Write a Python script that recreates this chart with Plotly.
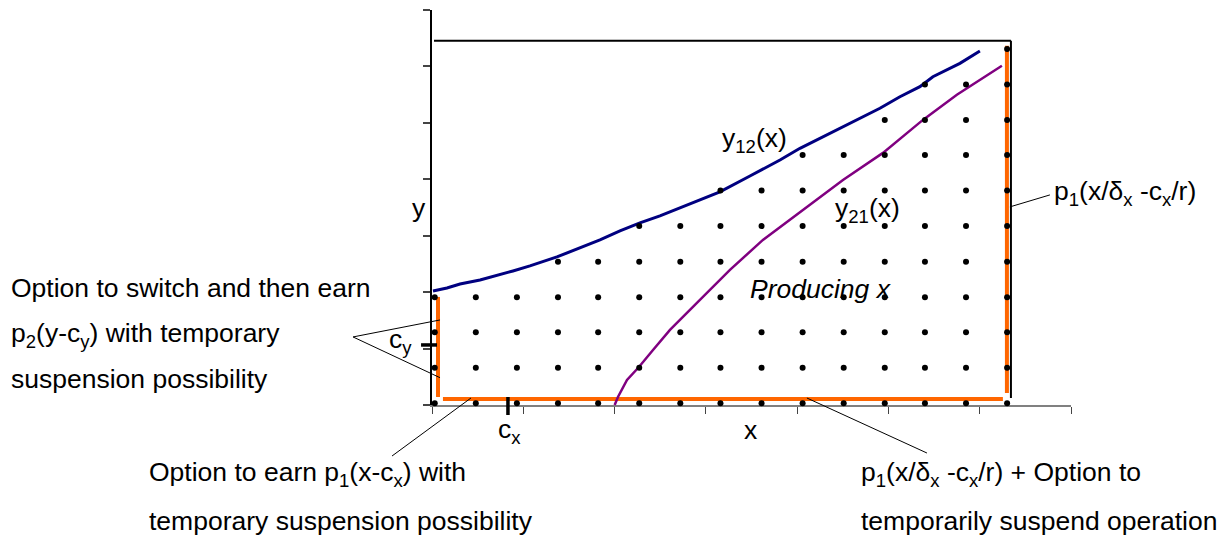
import plotly.graph_objects as go

# ---------------- data (in axis units; visible axes run 0..7 on both x and y) ----------------
dot_cols = [0.03, 0.48, 0.93, 1.38, 1.82, 2.27, 2.72, 3.16, 3.61, 4.06, 4.51, 4.96, 5.40, 5.85, 6.30]
dot_rows = [0.03, 0.66, 1.29, 1.91, 2.54, 3.17, 3.80, 4.43, 5.05, 5.68, 6.31]
dot_counts = [4, 4, 4, 5, 5, 6, 6, 7, 7, 8, 8, 9, 10, 10, 11]

y12_x = [0.011, 0.164, 0.307, 0.526, 0.887, 1.073, 1.369, 1.621, 1.840, 2.059, 2.278, 2.497,
         2.716, 3.154, 3.483, 3.812, 4.031, 4.250, 4.469, 4.688, 4.907, 5.126, 5.345, 5.487,
         5.783, 6.002]
y12_y = [2.021, 2.074, 2.145, 2.216, 2.376, 2.465, 2.624, 2.784, 2.926, 3.085, 3.227, 3.351,
         3.493, 3.777, 4.058, 4.342, 4.549, 4.725, 4.903, 5.068, 5.258, 5.463, 5.641, 5.818,
         6.055, 6.273]

y21_x = [2.001, 2.037, 2.136, 2.267, 2.421, 2.607, 2.935, 3.264, 3.625, 4.064, 4.502, 4.940,
         5.378, 5.750, 6.243]
y21_y = [0.000, 0.142, 0.443, 0.674, 0.975, 1.330, 1.862, 2.394, 2.926, 3.457, 3.989, 4.468,
         5.053, 5.497, 6.011]

# boundary segments  [x0, y0, x1, y1]
orange_left = [0.066, 0.142, 0.066, 1.915]
orange_bottom = [0.120, 0.106, 6.254, 0.106]
orange_right = [6.298, 0.213, 6.298, 6.365]
frame_top = [0.022, 6.454, 6.342, 6.454]
frame_right = [6.342, 0.124, 6.342, 6.454]
cx_mark = [0.832, 0.142, 0.832, -0.177]
cy_mark = [-0.120, 1.064, 0.055, 1.064]
leaders = [
    [-0.865, 1.206, 0.088, 1.507],
    [-0.865, 1.206, 0.088, 0.484],
    [-0.438, -0.904, 0.427, 0.124],
    [4.107, 0.124, 5.422, -0.851],
    [6.331, 3.511, 6.769, 3.723],
]

# ---------------- geometry ----------------
W, H = 1229, 537
L, R, T, B = 432, 1071, 10, 405  # visible axes frame in pixels
sx = (R - L) / 7.0
sy = (B - T) / 7.0
x2range = [-L / sx, (W - L) / sx]
y2range = [-(H - B) / sy, B / sy]

FONT = "Liberation Sans, Arial, sans-serif"
FS = 26.5

fig = go.Figure()

# dots
dx, dy = [], []
for c, n in zip(dot_cols, dot_counts):
    for r in dot_rows[:n]:
        dx.append(c)
        dy.append(r)


def seg(s, color, width):
    fig.add_trace(go.Scatter(x=[s[0], s[2]], y=[s[1], s[3]], mode="lines",
                             line=dict(color=color, width=width),
                             xaxis="x2", yaxis="y2", hoverinfo="skip", showlegend=False))


for s in (orange_left, orange_bottom, orange_right):
    seg(s, "#FF6600", 4)
for s in (frame_top, frame_right):
    seg(s, "#000000", 2)
for s in (cx_mark, cy_mark):
    seg(s, "#000000", 3.5)
for s in leaders:
    seg(s, "#000000", 1)

fig.add_trace(go.Scatter(x=y12_x, y=y12_y, mode="lines", line=dict(color="#000080", width=3),
                         xaxis="x2", yaxis="y2", showlegend=False, hoverinfo="skip"))
fig.add_trace(go.Scatter(x=y21_x, y=y21_y, mode="lines", line=dict(color="#800080", width=2.5),
                         xaxis="x2", yaxis="y2", showlegend=False, hoverinfo="skip"))
fig.add_trace(go.Scatter(x=dx, y=dy, mode="markers", marker=dict(color="black", size=6),
                         xaxis="x2", yaxis="y2", showlegend=False, hoverinfo="skip"))

# dummy trace on the visible axes
fig.add_trace(go.Scatter(x=[None], y=[None], mode="markers", showlegend=False, hoverinfo="skip"))


def px(x):
    return x / W


def py(y):
    return 1 - y / H


texts = [
    ("y", 419, 208, "center"),
    ("x", 750, 430, "center"),
    ("c<sub>x</sub>", 509, 431, "center"),
    ("c<sub>y</sub>", 414, 341, "right"),
    ("y<sub>12</sub>(x)", 720, 140, "left"),
    ("y<sub>21</sub>(x)", 833, 210, "left"),
    ("<i>Producing x</i>", 821, 289, "center"),
    ("p<sub>1</sub>(x/δ<sub>x</sub> -c<sub>x</sub>/r)", 1052, 193, "left"),
    ("Option to switch and then earn", 9, 288, "left"),
    ("p<sub>2</sub>(y-c<sub>y</sub>) with temporary", 9, 335, "left"),
    ("suspension possibility", 9, 379, "left"),
    ("Option to earn p<sub>1</sub>(x-c<sub>x</sub>) with", 147, 474, "left"),
    ("temporary suspension possibility", 147, 521, "left"),
    ("p<sub>1</sub>(x/δ<sub>x</sub> -c<sub>x</sub>/r) + Option to", 859, 474, "left"),
    ("temporarily suspend operation", 859, 521, "left"),
]
for t, x, y, xa in texts:
    fig.add_annotation(text=t, x=px(x), y=py(y), xref="paper", yref="paper",
                       xanchor=xa, yanchor="middle", showarrow=False,
                       font=dict(family=FONT, size=FS, color="black"))

fig.update_layout(
    width=W, height=H,
    margin=dict(l=0, r=0, t=0, b=0, autoexpand=False),
    paper_bgcolor="white", plot_bgcolor="rgba(0,0,0,0)",
    showlegend=False,
    xaxis=dict(domain=[L / W, R / W], range=[0, 7], tickmode="linear", tick0=0, dtick=1,
               showticklabels=False, ticks="outside", ticklen=7, tickwidth=1, tickcolor="#444444",
               showline=True, linecolor="#808080", linewidth=2, showgrid=False, zeroline=False,
               fixedrange=True),
    yaxis=dict(domain=[(H - B) / H, (H - T) / H], range=[0, 7], tickmode="linear", tick0=0, dtick=1,
               showticklabels=False, ticks="outside", ticklen=7, tickwidth=1.5, tickcolor="#444444",
               showline=True, linecolor="black", linewidth=1.5, showgrid=False, zeroline=False,
               fixedrange=True),
    xaxis2=dict(domain=[0, 1], range=x2range, anchor="y2", visible=False, fixedrange=True),
    yaxis2=dict(domain=[0, 1], range=y2range, anchor="x2", visible=False, fixedrange=True),
)

fig.write_html("out.html", config={"displayModeBar": False},
               post_script="document.body.style.margin='0';document.body.style.overflow='hidden';")
